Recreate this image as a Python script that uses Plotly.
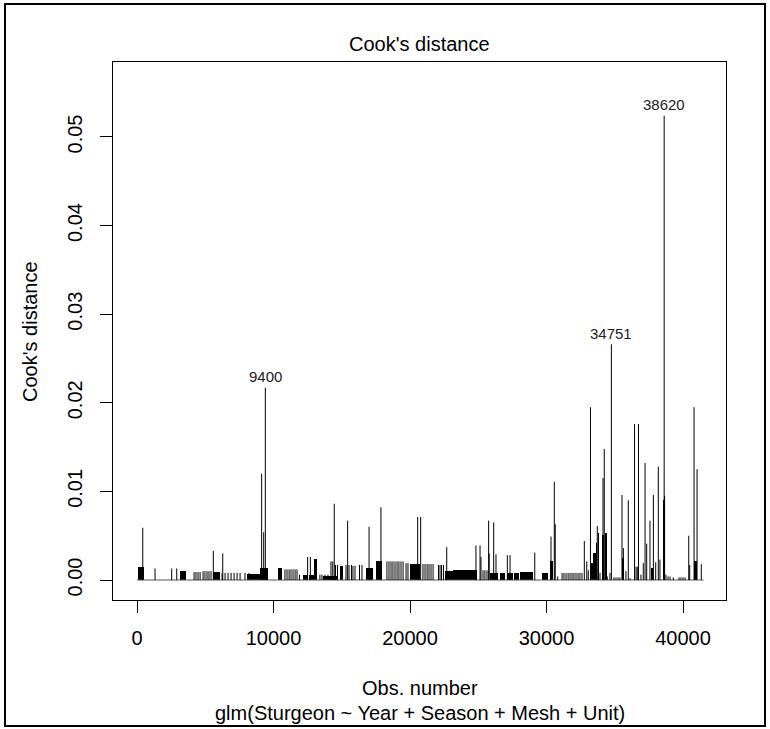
import plotly.graph_objects as go

# ---------------- data ----------------
n_obs = 41500

# individual observations (obs number, Cook's distance)
spike_obs = [420, 1320, 2540, 2910,
             4180, 4320, 4470, 4620, 4840, 4980, 5130, 5270, 5420,
             5590, 6280, 6230, 6450, 6670, 6890, 7110, 7330, 7550, 7910, 8200,
             9130, 9280, 9400, 9490,
             10840, 10990, 11140, 11280, 11430, 11580, 11720, 11900,
             12500, 12700, 13400, 13550, 13770, 13990,
             14210, 14340, 14450, 14540, 14690,
             15310, 15430, 15530, 15710, 15820, 15970, 16300, 16480,
             17000, 17870,
             18310, 18460, 18610, 18750, 18900, 19050, 19190, 19340, 19490, 19710, 19850,
             20560, 20780, 20950, 21100, 21250, 21390, 21540, 21690,
             22090, 22200, 22310, 22450, 22690,
             24830, 25130, 25200, 25350, 25490, 25640, 25760, 25800,
             26130, 26300, 26740, 26890, 27130, 27330,
             29140, 30330, 30570, 30640, 30820,
             31140, 31280, 31430, 31580, 31720, 31870, 32010, 32160, 32310, 32450, 32600,
             32770, 32950, 33060, 33220, 33660, 33720, 33810, 33920,
             34140, 34230, 34450, 34650, 34751,
             34940, 35090, 35240, 35380, 35530, 35630, 35820, 35990, 36120,
             36450, 36560, 36650, 36740, 36920, 37090, 37220, 37340, 37580,
             37830, 38000, 38190, 38310, 38620, 38650, 38750, 38900, 39050, 39290,
             39710, 39850, 40000, 40150, 40420, 40490, 40810, 41030, 41340]
spike_val = [0.0059, 0.0013, 0.0013, 0.0013,
             0.0009, 0.0009, 0.0009, 0.0009, 0.0010, 0.0010, 0.0010, 0.0010, 0.0010,
             0.0033, 0.0030, 0.0008, 0.0008, 0.0008, 0.0008, 0.0008, 0.0008, 0.0008, 0.0008, 0.0008,
             0.0120, 0.0054, 0.0217, 0.0013,
             0.0012, 0.0012, 0.0012, 0.0012, 0.0012, 0.0012, 0.0012, 0.0006,
             0.0026, 0.0026, 0.0006, 0.0006, 0.0006, 0.0006,
             0.0021, 0.0021, 0.0086, 0.0017, 0.0017,
             0.0017, 0.0067, 0.0017, 0.0017, 0.0016, 0.0016, 0.0017, 0.0017,
             0.0060, 0.0082,
             0.0021, 0.0021, 0.0021, 0.0021, 0.0021, 0.0021, 0.0021, 0.0021, 0.0021, 0.0019, 0.0019,
             0.0071, 0.0071, 0.0018, 0.0018, 0.0018, 0.0018, 0.0018, 0.0018,
             0.0017, 0.0017, 0.0017, 0.0017, 0.0037,
             0.0039, 0.0039, 0.0026, 0.0011, 0.0011, 0.0011, 0.0067, 0.0030,
             0.0065, 0.0029, 0.0008, 0.0008, 0.0028, 0.0028,
             0.0031, 0.0049, 0.0111, 0.0063, 0.0004,
             0.0008, 0.0008, 0.0008, 0.0008, 0.0008, 0.0008, 0.0008, 0.0008, 0.0008, 0.0008, 0.0008,
             0.0044, 0.0021, 0.0011, 0.0195, 0.0042, 0.0061, 0.0053, 0.0008,
             0.0115, 0.0148, 0.0004, 0.0008, 0.0266,
             0.0003, 0.0003, 0.0003, 0.0003, 0.0096, 0.0036, 0.0010, 0.0090, 0.0002,
             0.0176, 0.0015, 0.0015, 0.0176, 0.0006, 0.0019, 0.0132, 0.0041, 0.0067,
             0.0096, 0.0020, 0.0128, 0.0023, 0.0524, 0.0095, 0.0006, 0.0004, 0.0004, 0.0003,
             0.0003, 0.0003, 0.0003, 0.0003, 0.0050, 0.0017, 0.0195, 0.0125, 0.0018]

# runs of consecutive observations that merge into solid blocks
block_start = [70, 3150, 5570, 8060, 9010, 10330, 12140, 12600, 12970, 13630, 14870,
               16780, 17510, 20000, 22560, 23150, 25860, 26590, 27100, 27620, 28060,
               29650, 30230, 33290, 33460, 34040, 34290, 35600, 37650, 38510, 40810]
block_end = [510, 3570, 6080, 9010, 9600, 10620, 12530, 13190, 13190, 14730, 15090,
             17270, 17930, 20730, 23150, 24910, 26450, 26960, 27550, 27980, 29010,
             30130, 30470, 33410, 33600, 34210, 34400, 35680, 37820, 38680, 41040]
block_val = [0.0015, 0.0010, 0.0009, 0.0007, 0.0013, 0.0013, 0.0006, 0.0006, 0.0024, 0.0004, 0.0016,
             0.0014, 0.0021, 0.0018, 0.0010, 0.0011, 0.0008, 0.0008, 0.0008, 0.0008, 0.0009,
             0.0008, 0.0021, 0.0019, 0.0030, 0.0051, 0.0053, 0.0025, 0.0014, 0.0090, 0.0022]

label_obs = [9400, 34751, 38620]

x_ticks = [0, 10000, 20000, 30000, 40000]
y_ticks = [0.00, 0.01, 0.02, 0.03, 0.04, 0.05]

# ---------------- figure ----------------
W, H = 770, 729
L, R, T, B = 113, 726, 62, 600   # plot box in pixels
FONT = "Liberation Sans, Arial, sans-serif"


def px_x(p):
    return (p - L) / (R - L)


def px_y(p):
    return (B - p) / (B - T)


seg_x, seg_y = [], []
for o, v in zip(spike_obs, spike_val):
    seg_x += [o, o, None]
    seg_y += [0, v, None]

fig = go.Figure()
fig.add_trace(go.Scatter(x=[1, n_obs], y=[0, 0], mode="lines",
                         line=dict(color="#555555", width=1), hoverinfo="skip"))
fig.add_trace(go.Bar(x=[(s + e) / 2 for s, e in zip(block_start, block_end)],
                     y=block_val, base=0,
                     width=[e - s for s, e in zip(block_start, block_end)],
                     marker=dict(color="black", line=dict(width=0))))
fig.add_trace(go.Scatter(x=seg_x, y=seg_y, mode="lines",
                         line=dict(color="black", width=1), connectgaps=False))

annotations = []
for o in label_obs:
    v = spike_val[spike_obs.index(o)]
    annotations.append(dict(x=o, y=v, xref="x", yref="y", text=str(o), showarrow=False,
                            xanchor="center", yanchor="middle", yshift=11,
                            font=dict(family=FONT, size=15, color="#222222")))


def txt(text, x, y, angle=0):
    return dict(text=text, x=x, y=y, xref="paper", yref="paper", showarrow=False,
                xanchor="center", yanchor="middle", textangle=angle,
                font=dict(family=FONT, size=20, color="black"))


annotations += [
    txt("Cook's distance", 0.5, px_y(44)),
    txt("Obs. number", 0.5, px_y(688)),
    txt("glm(Sturgeon ~ Year + Season + Mesh + Unit)", 0.5, px_y(713)),
    txt("Cook's distance", px_x(30), 0.5, -90),
]

fig.update_layout(
    width=W, height=H,
    margin=dict(l=L, r=W - R, t=T, b=H - B, pad=0),
    paper_bgcolor="white", plot_bgcolor="white",
    showlegend=False, bargap=0,
    font=dict(family=FONT, size=20, color="black"),
    annotations=annotations,
    shapes=[dict(type="rect", xref="paper", yref="paper",
                 x0=px_x(5), x1=px_x(765), y0=px_y(726), y1=px_y(4),
                 line=dict(color="black", width=2), layer="above")],
)
fig.update_xaxes(range=[-1760, 43150], tickvals=x_ticks, ticktext=[str(t) for t in x_ticks],
                 ticks="outside", ticklen=12, tickwidth=1, tickcolor="black",
                 showline=True, mirror=True, linecolor="black", linewidth=1,
                 showgrid=False, zeroline=False, ticklabelstandoff=8,
                 tickfont=dict(family=FONT, size=20, color="black"))
fig.update_yaxes(range=[-0.002257, 0.05846], tickvals=y_ticks,
                 ticktext=["%.2f" % t for t in y_ticks],
                 ticks="outside", ticklen=12, tickwidth=1, tickcolor="black",
                 showline=True, mirror=True, linecolor="black", linewidth=1,
                 showgrid=False, zeroline=False, tickangle=-90, ticklabelstandoff=10,
                 tickfont=dict(family=FONT, size=20, color="black"))

fig.write_html("out.html", config={"displayModeBar": False},
               post_script="document.body.style.margin='0';document.body.style.overflow='hidden';")
